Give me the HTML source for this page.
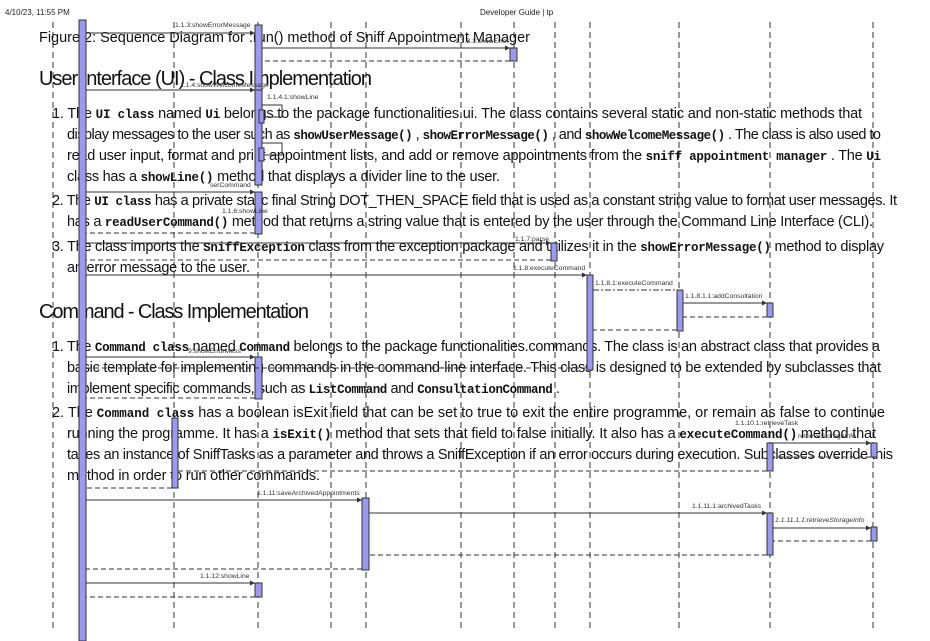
<!DOCTYPE html>
<html><head><meta charset="utf-8"><style>
html,body{margin:0;padding:0;background:#fff;}
svg{display:block}
.t{font-family:"Liberation Sans",sans-serif;fill:#111;font-size:14.5px}
.c{font-family:"Liberation Mono",monospace;font-weight:bold;font-size:12.5px}
.h{font-family:"Liberation Sans",sans-serif;fill:#111;font-size:20px}
.s{font-family:"Liberation Sans",sans-serif;fill:#333;font-size:6.8px}
.ll{stroke:#333;stroke-width:1;stroke-dasharray:6,4;fill:none}
.b{fill:#9a9af0;stroke:#333;stroke-width:1}
.a{stroke:#333;stroke-width:1;fill:none}
.r{stroke:#333;stroke-width:1;stroke-dasharray:5,3;fill:none}
</style></head><body>
<svg width="930" height="641" viewBox="0 0 930 641" xmlns="http://www.w3.org/2000/svg">
<defs><marker id="m" markerWidth="5" markerHeight="5" refX="5" refY="2.5" orient="auto"><path d="M0,0 L5,2.5 L0,5" fill="#333"/></marker></defs>
<text x="5" y="15" font-family="Liberation Sans,sans-serif" font-size="8" fill="#222">4/10/23, 11:55 PM</text>
<text x="480" y="15" font-family="Liberation Sans,sans-serif" font-size="8" fill="#222">Developer Guide | tp</text>
<g class="ll">
<line x1="53" y1="22" x2="53" y2="632"/><line x1="174" y1="22" x2="174" y2="632"/><line x1="258" y1="22" x2="258" y2="632"/>
<line x1="331" y1="22" x2="331" y2="632"/><line x1="366" y1="22" x2="366" y2="632"/><line x1="461" y1="22" x2="461" y2="632"/>
<line x1="514" y1="22" x2="514" y2="632"/><line x1="555" y1="22" x2="555" y2="632"/><line x1="590" y1="22" x2="590" y2="632"/>
<line x1="679" y1="22" x2="679" y2="632"/><line x1="770" y1="22" x2="770" y2="632"/><line x1="873" y1="22" x2="873" y2="632"/>
</g>
<text class="t" x="39" y="42" textLength="491" font-size="15">Figure 2: Sequence Diagram for .run() method of Sniff Appointment Manager</text>
<text class="h" x="39" y="85" textLength="333">User Interface (UI) - Class Implementation</text>
<text class="h" x="39" y="318" textLength="270">Command - Class Implementation</text>
<g class="t">
<text x="52" y="118" textLength="810">1. The <tspan class="c">UI class</tspan> named <tspan class="c" font-weight="normal">Ui</tspan> belongs to the package functionalities.ui. The class contains several static and non-static methods that</text>
<text x="67" y="139" textLength="814">display messages to the user such as <tspan class="c">showUserMessage()</tspan> , <tspan class="c">showErrorMessage()</tspan> , and <tspan class="c">showWelcomeMessage()</tspan> . The class is also used to</text>
<text x="67" y="160" textLength="814">read user input, format and print appointment lists, and add or remove appointments from the <tspan class="c" font-size="11">sniff appointment manager</tspan> . The <tspan class="c">Ui</tspan></text>
<text x="67" y="181" textLength="433">class has a <tspan class="c">showLine()</tspan> method that displays a divider line to the user.</text>
<text x="52" y="205" textLength="845">2. The <tspan class="c">UI class</tspan> has a private static final String DOT_THEN_SPACE field that is used as a constant string value to format user messages. It</text>
<text x="67" y="226" textLength="806">has a <tspan class="c">readUserCommand()</tspan> method that returns a string value that is entered by the user through the Command Line Interface (CLI).</text>
<text x="52" y="251" textLength="832">3. The class imports the <tspan class="c">SniffException</tspan> class from the exception package and utilizes it in the <tspan class="c">showErrorMessage()</tspan> method to display</text>
<text x="67" y="272" textLength="183">an error message to the user.</text>
<text x="52" y="351" textLength="828">1. The <tspan class="c">Command class</tspan> named <tspan class="c" font-weight="normal">Command</tspan> belongs to the package functionalities.commands. The class is an abstract class that provides a</text>
<text x="67" y="372" textLength="814">basic template for implementing commands in the command-line interface. This class is designed to be extended by subclasses that</text>
<text x="67" y="393" textLength="493">implement specific commands, such as <tspan class="c">ListCommand</tspan> and <tspan class="c">ConsultationCommand</tspan> .</text>
<text x="52" y="417" textLength="833">2. The <tspan class="c">Command class</tspan> has a boolean isExit field that can be set to true to exit the entire programme, or remain as false to continue</text>
<text x="67" y="438" textLength="809">running the programme. It has a <tspan class="c">isExit()</tspan> method that sets that field to false initially. It also has a <tspan class="c">executeCommand()</tspan> method that</text>
<text x="67" y="459" textLength="826">takes an instance of SniffTasks as a parameter and throws a SniffException if an error occurs during execution. Subclasses override this</text>
<text x="67" y="480" textLength="253">method in order to run other commands.</text>
</g>
<rect class="b" x="79" y="20" width="7" height="621"/>
<rect class="b" x="255" y="25" width="7" height="75"/>
<rect class="b" x="510" y="48" width="7" height="13"/>
<rect class="b" x="255" y="90" width="7" height="95"/>
<rect class="b" x="259" y="110" width="5" height="13"/>
<rect class="b" x="259" y="148" width="5" height="13"/>
<rect class="b" x="255" y="192" width="7" height="42"/>
<rect class="b" x="551" y="243" width="6" height="18"/>
<rect class="b" x="587" y="275" width="6" height="95"/>
<rect class="b" x="677" y="290" width="6" height="41"/>
<rect class="b" x="767" y="303" width="6" height="14"/>
<rect class="b" x="255" y="357" width="7" height="42"/>
<rect class="b" x="172" y="418" width="6" height="70"/>
<rect class="b" x="767" y="443" width="6" height="28"/>
<rect class="b" x="871" y="443" width="6" height="14"/>
<rect class="b" x="362" y="498" width="7" height="72"/>
<rect class="b" x="767" y="513" width="6" height="42"/>
<rect class="b" x="871" y="527" width="6" height="14"/>
<rect class="b" x="255" y="583" width="7" height="14"/>
<g class="a" marker-end="url(#m)">
<line x1="86" y1="33" x2="255" y2="33"/>
<line x1="262" y1="48" x2="510" y2="48"/>
<line x1="86" y1="90" x2="255" y2="90"/>
<line x1="86" y1="192" x2="255" y2="192"/>
<line x1="86" y1="243" x2="551" y2="243"/>
<line x1="86" y1="275" x2="587" y2="275"/>
<line x1="683" y1="303" x2="767" y2="303"/>
<line x1="86" y1="357" x2="255" y2="357"/>
<line x1="86" y1="500" x2="362" y2="500"/>
<line x1="369" y1="513" x2="767" y2="513"/>
<line x1="773" y1="528" x2="871" y2="528"/>
<line x1="773" y1="443" x2="871" y2="443"/>
<line x1="86" y1="583" x2="255" y2="583"/>
</g>
<path class="a" d="M262,105 H282 V117 H264"/>
<path class="a" d="M262,143 H282 V155 H264"/>
<line x1="593" y1="290" x2="677" y2="290" stroke="#333" stroke-dasharray="6,2,2,2"/>
<g class="r">
<line x1="510" y1="61" x2="262" y2="61"/>
<line x1="255" y1="233" x2="86" y2="233"/>
<line x1="551" y1="260" x2="86" y2="260"/>
<line x1="767" y1="317" x2="683" y2="317"/>
<line x1="677" y1="330" x2="593" y2="330"/>
<line x1="587" y1="368" x2="86" y2="368"/>
<line x1="255" y1="398" x2="86" y2="398"/>
<line x1="871" y1="457" x2="773" y2="457"/>
<line x1="767" y1="471" x2="178" y2="471"/>
<line x1="172" y1="488" x2="86" y2="488"/>
<line x1="871" y1="541" x2="773" y2="541"/>
<line x1="767" y1="555" x2="369" y2="555"/>
<line x1="362" y1="569" x2="86" y2="569"/>
<line x1="255" y1="597" x2="86" y2="597"/>
</g>
<g class="s">
<text x="175" y="27">1.1.3:showErrorMessage</text>
<text x="455" y="43">1.1.3.1:showError</text>
<text x="180" y="87">1.1.4:showWelcomeMessage</text>
<text x="267" y="99">1.1.4.1:showLine</text>
<text x="210" y="187">serCommand</text>
<text x="222" y="213">1.1.6:showLine</text>
<text x="515" y="241">1.1.7:parse</text>
<text x="513" y="270">1.1.8:executeCommand</text>
<text x="595" y="285">1.1.8.1:executeCommand</text>
<text x="685" y="298">1.1.8.1.1:addConsultation</text>
<text x="188" y="353">9:showErrorMess</text>
<text x="735" y="425">1.1.10.1:retrieveTask</text>
<text x="798" y="438">retrieveStorageInfo</text>
<text x="257" y="495">1.1.11:saveArchivedAppointments</text>
<text x="692" y="508">1.1.11.1:archivedTasks</text>
<text x="775" y="522" font-style="italic">1.1.11.1.1:retrieveStorageInfo</text>
<text x="200" y="578">1.1.12:showLine</text>
</g>
</svg>
</body></html>
